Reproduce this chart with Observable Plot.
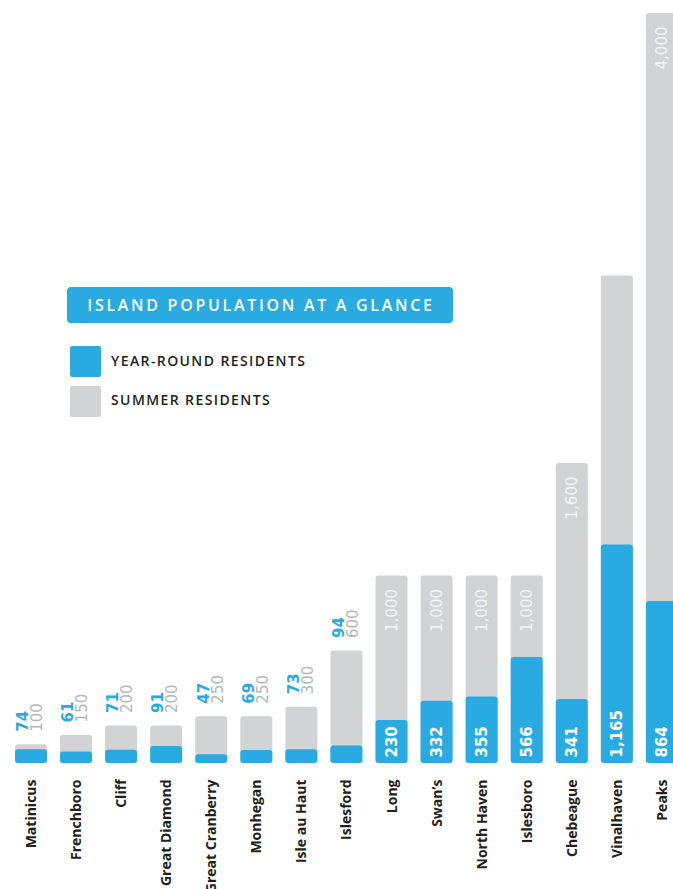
<!DOCTYPE html>
<html><head><meta charset="utf-8">
<script src="https://cdn.jsdelivr.net/npm/d3@7"></script>
<script src="https://cdn.jsdelivr.net/npm/@observablehq/plot@0.6"></script>
<style>
html,body{margin:0;padding:0;background:#fff;overflow:hidden;width:673px;height:889px}
#wrap{position:relative;width:673px;height:889px;overflow:hidden}
#chart svg{display:block;overflow:hidden}
.lg{position:absolute;font-family:"Open Sans",sans-serif}
.title{left:67px;top:287px;width:386px;height:36px;background:#29abe2;border-radius:4px;color:#fff;font-weight:600;font-size:16px;letter-spacing:2.7px;text-align:center;line-height:36px;text-indent:2px}
.sw{width:31px;height:31px;border-radius:2px;left:70px}
.lab{left:111px;font-weight:600;font-size:14px;letter-spacing:1.4px;color:#231f20;line-height:16px}
</style></head><body>
<div id="wrap">
<div id="chart"></div>
<div class="lg title">ISLAND POPULATION AT A GLANCE</div>
<div class="lg sw" style="top:346px;background:#29abe2"></div>
<div class="lg lab" style="top:353px">YEAR-ROUND RESIDENTS</div>
<div class="lg sw" style="top:386px;background:#d1d3d4"></div>
<div class="lg lab" style="top:392px">SUMMER RESIDENTS</div>
</div>
<script>
const islands = ["Matinicus","Frenchboro","Cliff","Great Diamond","Great Cranberry","Monhegan","Isle au Haut","Islesford","Long","Swan\u2019s","North Haven","Islesboro","Chebeague","Vinalhaven","Peaks"];
const yearRound = [74,61,71,91,47,69,73,94,230,332,355,566,341,1165,864];
const summer = [100,150,200,200,250,250,300,600,1000,1000,1000,1000,1600,2600,4000];
const summerLabels = ["100","150","200","200","250","250","300","600","1,000","1,000","1,000","1,000","1,600","","4,000"];

const fmt = d3.format(",");
const data = islands.map((name,i)=>({name, yr: yearRound[i], su: summer[i], suLabel: summerLabels[i], inside: summer[i] >= 1000}));
const blue = "#29abe2", gray = "#d1d3d4";
const outside = data.filter(d=>!d.inside), inside = data.filter(d=>d.inside);
const numFont = "DejaVu Sans";

const chart = Plot.plot({
  width: 673, height: 889,
  marginTop: 13, marginBottom: 126, marginLeft: 0, marginRight: 0,
  x: {domain: islands, range: [8.2, 684.7], paddingInner: 0.29, paddingOuter: 0.15, round: false, axis: null},
  y: {domain: [0, 4000], axis: null},
  style: {fontFamily: "Open Sans, sans-serif", background: "#fff"},
  marks: [
    Plot.barY(data, {x: "name", y: "su", fill: gray, rx: 3}),
    Plot.barY(data, {x: "name", y: "yr", fill: blue, rx: 3}),
    Plot.text(outside, {x: "name", y: "su", text: d => fmt(d.yr), rotate: -90, textAnchor: "start", lineAnchor: "middle", dx: -8, dy: -13, fill: blue, fontWeight: "bold", fontSize: 15, fontFamily: numFont}),
    Plot.text(outside, {x: "name", y: "su", text: "suLabel", rotate: -90, textAnchor: "start", lineAnchor: "middle", dx: 6, dy: -13, fill: "#b5b6b8", fontSize: 15, fontFamily: numFont}),
    Plot.text(inside, {x: "name", y: 0, text: d => fmt(d.yr), rotate: -90, textAnchor: "start", lineAnchor: "middle", dy: -6, fill: "#fff", fontWeight: "bold", fontSize: 15, fontFamily: numFont}),
    Plot.text(inside, {x: "name", y: "su", text: "suLabel", rotate: -90, textAnchor: "end", lineAnchor: "middle", dy: 13, fill: "#f4f4f4", fontSize: 15, fontFamily: numFont}),
    Plot.text(data, {x: "name", y: 0, text: "name", rotate: -90, textAnchor: "end", lineAnchor: "middle", dy: 16, fill: "#231f20", fontWeight: "bold", fontSize: 14})
  ]
});
document.getElementById("chart").appendChild(chart);
</script>
</body></html>
